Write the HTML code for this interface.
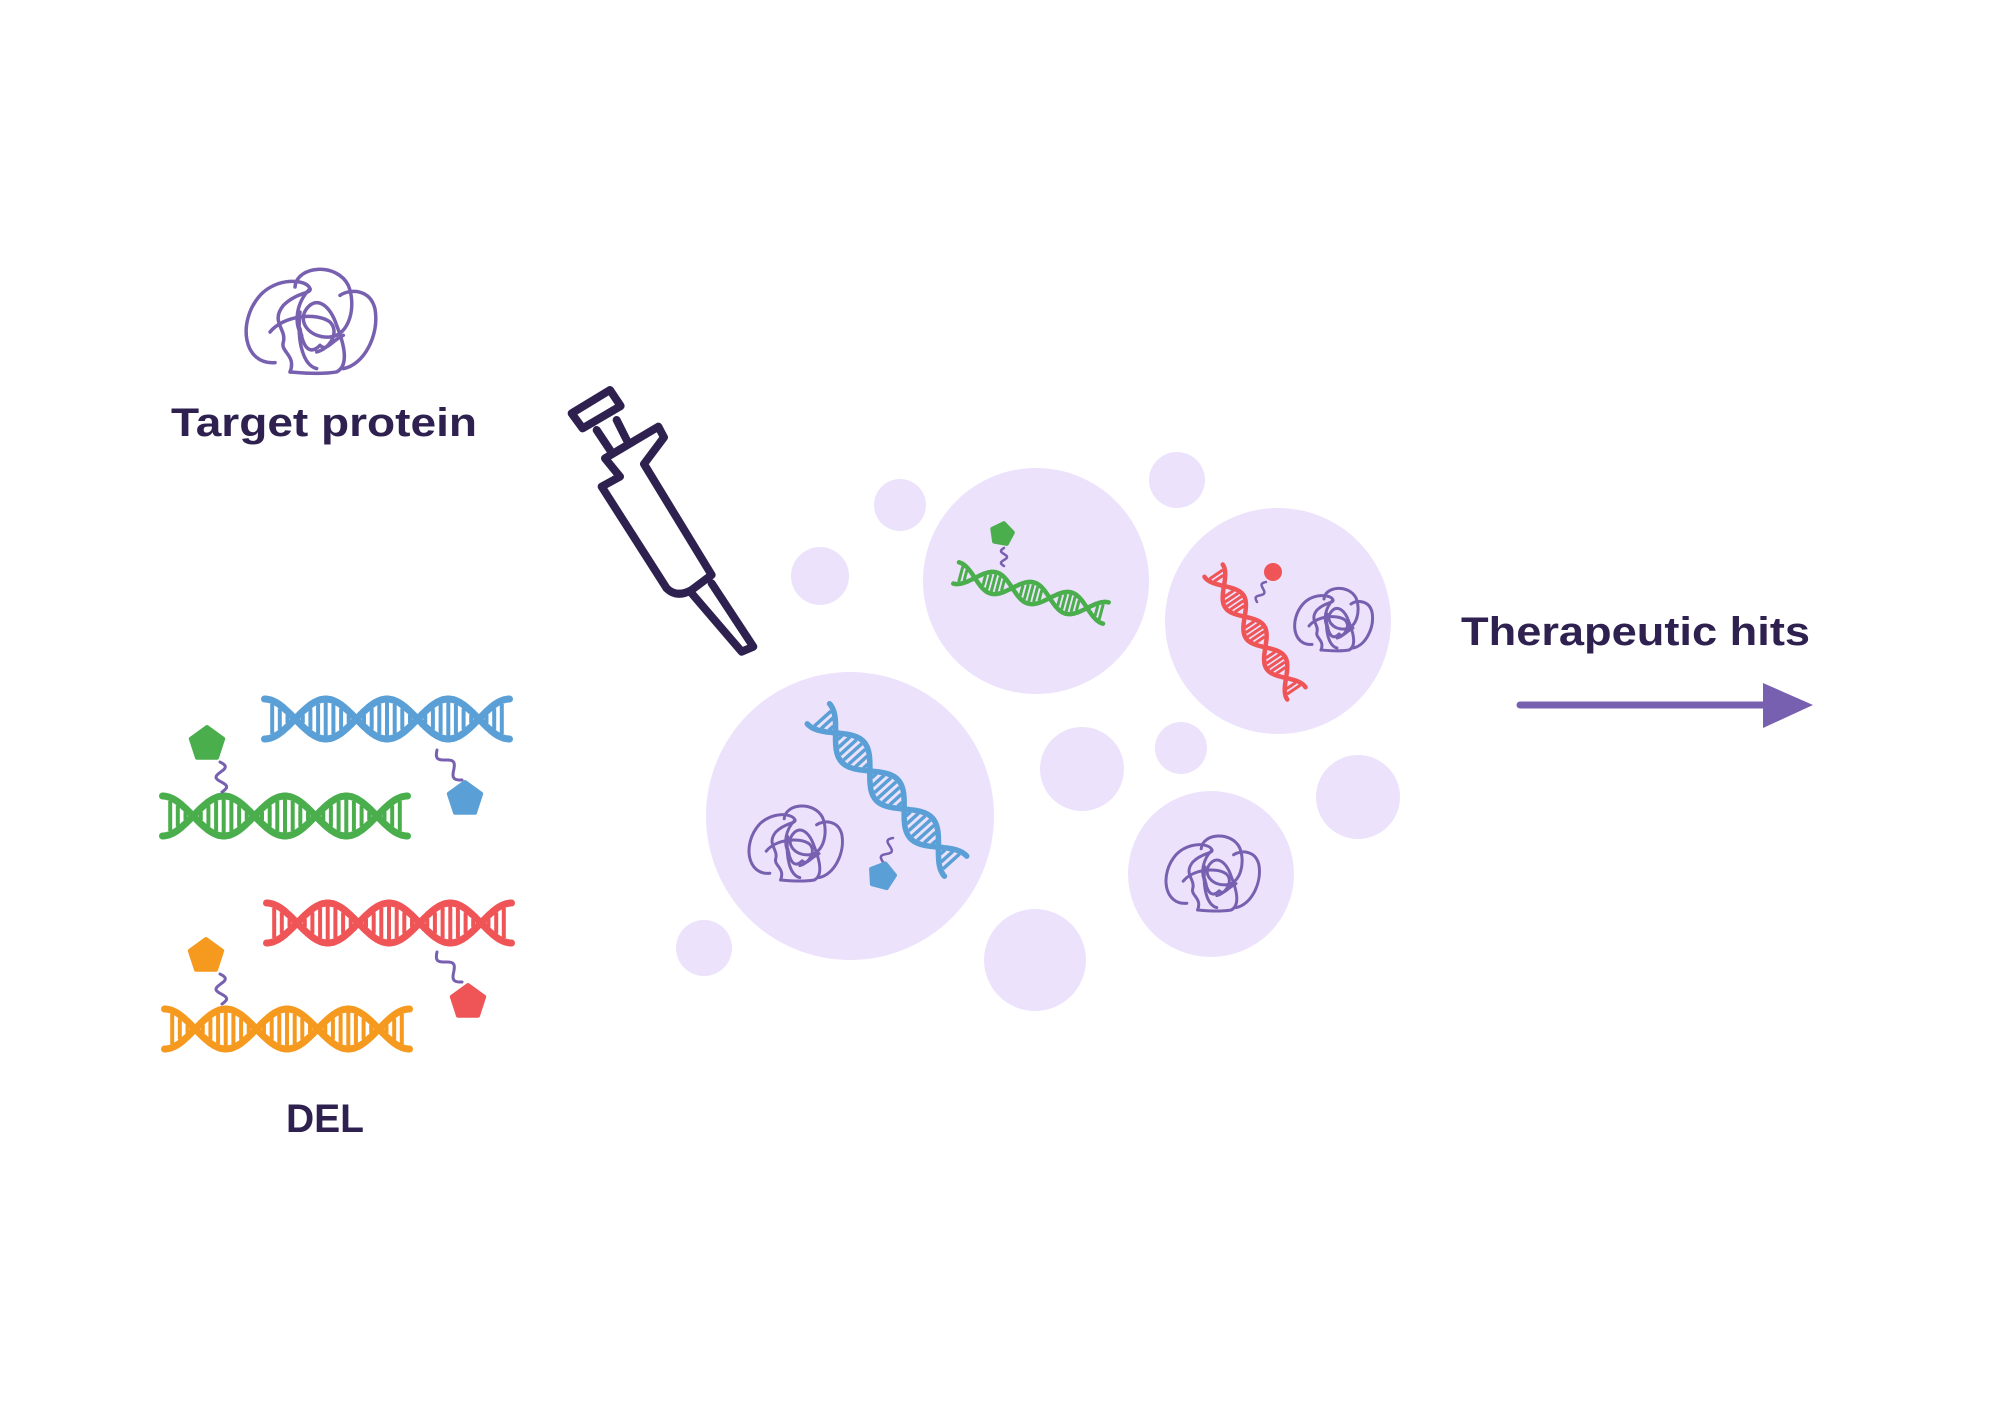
<!DOCTYPE html>
<html><head><meta charset="utf-8"><style>
html,body{margin:0;padding:0;background:#fff;}
svg{display:block;}
text{font-family:"Liberation Sans",sans-serif;font-weight:bold;fill:#2e2150;}
</style></head><body>
<svg id="s" width="2000" height="1413" viewBox="0 0 2000 1413" xmlns="http://www.w3.org/2000/svg">
<defs>
<g id="blob" fill="none" stroke-linecap="round" stroke-linejoin="round">
<path d="M135,322 C40,330 20,200 90,120 C140,65 230,70 240,100 C245,115 200,110 160,150 C120,200 170,220 160,260 C150,290 200,300 180,350"/>
<path d="M195,95 C200,30 320,20 355,90 C380,150 360,240 300,245 C240,250 200,200 230,160 C260,120 300,150 320,210 C340,260 360,330 320,350 C260,360 190,350 180,350"/>
<path d="M330,120 C360,100 420,100 435,160 C450,240 400,330 340,340"/>
<path d="M210,220 C220,280 240,300 270,270 C290,290 300,260 340,240"/>
<path d="M210,170 C200,260 220,330 260,340"/>
<path d="M240,100 C200,140 190,200 215,240"/>
<path d="M120,230 C160,180 260,170 300,200 C330,230 300,280 260,290"/>
</g>
</defs>
<g fill="#ece2fc">
<circle cx="850" cy="816" r="144"/>
<circle cx="1036" cy="581" r="113"/>
<circle cx="1278" cy="621" r="113"/>
<circle cx="1211" cy="874" r="83"/>
<circle cx="900" cy="505" r="26"/>
<circle cx="820" cy="576" r="29"/>
<circle cx="1177" cy="480" r="28"/>
<circle cx="1082" cy="769" r="42"/>
<circle cx="1181" cy="748" r="26"/>
<circle cx="1358" cy="797" r="42"/>
<circle cx="1035" cy="960" r="51"/>
<circle cx="704" cy="948" r="28"/>
</g>
<g id="dyn"></g>
<!-- pipette -->
<g transform="translate(560,380) scale(0.3333)" fill="none" stroke="#2e2150" stroke-width="24" stroke-linejoin="round" stroke-linecap="round">
<path d="M35,100 L150,30 L182,78 L68,145 Z"/>
<path d="M110,150 L150,210 M170,120 L200,180"/>
<path d="M135,235 L295,140 L312,172 L252,252 L455,585 L395,630 Q350,655 320,625 L125,320 L180,290 Z"/>
<path d="M395,640 L545,815 L580,800 L455,610"/>
</g>
<text x="324" y="436" text-anchor="middle" font-size="40" textLength="306" lengthAdjust="spacingAndGlyphs">Target protein</text>
<text x="325" y="1132" text-anchor="middle" font-size="40" textLength="78" lengthAdjust="spacingAndGlyphs">DEL</text>
<text x="1461" y="645" font-size="40" textLength="349" lengthAdjust="spacingAndGlyphs">Therapeutic hits</text>
<line x1="1520" y1="705" x2="1763" y2="705" stroke="#7860b0" stroke-width="7" stroke-linecap="round"/>
<polygon points="1763,683 1813,705 1763,728" fill="#7860b0"/>
</svg>
<script>
var out="";
function dna(cx,cy,L,a,ang,col,sw,rw){
 var s='<g transform="translate('+cx+','+cy+') rotate('+ang+')" stroke="'+col+'" fill="none" stroke-linecap="round">';
 var p1="",p2="";
 for(var i=0;i<=200;i++){var x=-L/2+L*i/200;var t=i/200*4*Math.PI;var y=a*Math.cos(t);
  p1+=(i?"L":"M")+x.toFixed(1)+","+(-y).toFixed(1);p2+=(i?"L":"M")+x.toFixed(1)+","+y.toFixed(1);}
 s+='<path d="'+p1+'" stroke-width="'+sw+'"/><path d="'+p2+'" stroke-width="'+sw+'"/>';
 for(var m=0;m<=4;m++)for(var d=-3;d<=3;d++){var t=m*Math.PI+d*Math.PI/8;if(t<0.2||t>4*Math.PI-0.2)continue;
  var x=-L/2+t/(4*Math.PI)*L;var h=a*Math.abs(Math.cos(t))-sw/2;if(h<2)continue;
  s+='<line x1="'+x.toFixed(1)+'" y1="'+(-h).toFixed(1)+'" x2="'+x.toFixed(1)+'" y2="'+h.toFixed(1)+'" stroke-width="'+rw+'" stroke-linecap="butt"/>';}
 return s+'</g>';
}
function pent(cx,cy,r,col,rot){var pts=[];for(var k=0;k<5;k++){var an=(rot||0)*Math.PI/180-Math.PI/2+k*2*Math.PI/5;pts.push((cx+r*Math.cos(an)).toFixed(1)+","+(cy+r*Math.sin(an)).toFixed(1));}
 return '<polygon points="'+pts.join(" ")+'" fill="'+col+'" stroke="'+col+'" stroke-width="4" stroke-linejoin="round"/>';}
function wig(x0,y0,x1,y1,amp,w){var dx=x1-x0,dy=y1-y0,L=Math.hypot(dx,dy),nx=-dy/L,ny=dx/L,p="";
 for(var i=0;i<=40;i++){var f=i/40,o=amp*Math.sin(f*3*Math.PI);p+=(i?"L":"M")+(x0+dx*f+nx*o).toFixed(1)+","+(y0+dy*f+ny*o).toFixed(1);}
 return '<path d="'+p+'" fill="none" stroke="#7860b0" stroke-width="'+(w||3)+'" stroke-linecap="round"/>';}
function blob(cx,cy,s,w){return '<use href="#blob" transform="translate('+cx+','+cy+') scale('+s+') translate(-240,-200)" stroke="#7860b0" stroke-width="'+(w/s)+'"/>';}
var B="#5a9fd6",G="#4aae4c",R="#ef5456",O="#f6991f";
out+=blob(310,322,0.333,3.5);
out+=dna(387,719,245,20,0,B,7,4);
out+=dna(285,816,245,20,0,G,7,4);
out+=dna(389,923,245,20,0,R,7,4);
out+=dna(287,1029,245,20,0,O,7,4);
out+=wig(222,792,220,762,5)+pent(207,744,17,G,0);
out+=wig(437,750,462,780,5)+pent(465,799,17,B,0);
out+=wig(222,1004,220,974,5)+pent(206,956,17,O,0);
out+=wig(437,952,462,982,5)+pent(468,1002,17,R,0);
out+=dna(887,790,205,15,48,B,5.5,3.5);
out+=wig(893,838,883,862,4,2.5)+pent(882,876,13,B,15);
out+=blob(795,844,0.24,3);
out+=dna(1031,593,155,11,15,G,4.5,3);
out+=wig(1004,548,1004,566,3,2.5)+pent(1002,534,11,G,10);
out+=dna(1255,632,148,11,56,R,4.5,3);
out+=wig(1266,582,1257,602,3,2.5)+'<circle cx="1273" cy="572" r="9" fill="'+R+'"/>';
out+=blob(1333,620,0.2,3);
out+=blob(1212,874,0.24,3);
document.getElementById("dyn").innerHTML=out;
</script>
</body></html>
